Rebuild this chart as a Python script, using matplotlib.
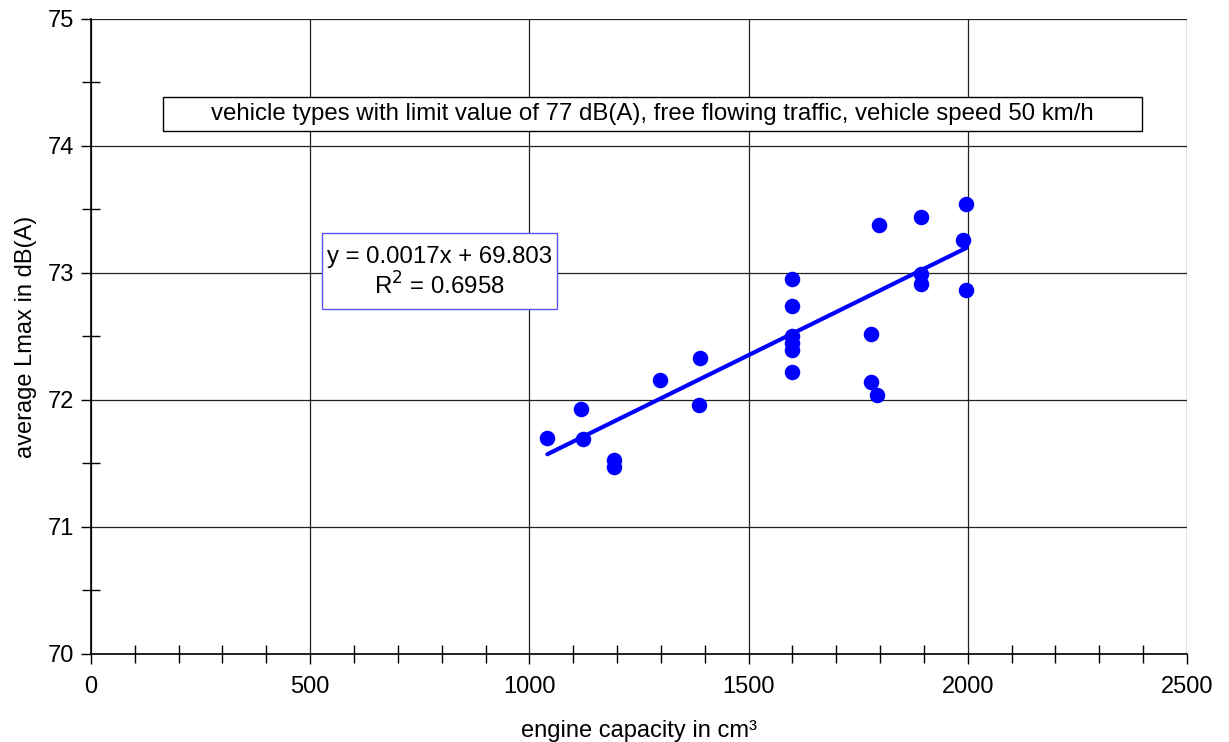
import matplotlib
matplotlib.use("Agg")
import matplotlib.pyplot as plt
from matplotlib.patches import Rectangle
from matplotlib.ticker import MultipleLocator
import numpy as np

plt.rcParams['font.family'] = ['Liberation Sans', 'DejaVu Sans']

# engine capacity (cm³) and average Lmax (dB(A)) per vehicle type
capacity = [1041, 1118, 1122, 1194, 1194, 1298, 1389, 1388,
            1598, 1598, 1598, 1598, 1598, 1598,
            1797, 1779, 1779, 1794,
            1894, 1894, 1894,
            1995, 1989, 1997]
lmax = [71.70, 71.93, 71.69, 71.53, 71.47, 72.16, 72.33, 71.96,
        72.95, 72.74, 72.50, 72.45, 72.39, 72.22,
        73.38, 72.52, 72.14, 72.04,
        73.44, 72.99, 72.91,
        73.54, 73.26, 72.87]

# linear trend as stated in the equation label
slope = 0.0017
intercept = 69.803
r_squared = 0.6958

x_ticks = [0, 500, 1000, 1500, 2000, 2500]
y_ticks = [70, 71, 72, 73, 74, 75]

fig = plt.figure(figsize=(12.29, 7.42), dpi=100)
ax = fig.add_axes([0.0740, 0.1186, 0.8918, 0.8558])

ax.set_xlim(0, 2500)
ax.set_ylim(70, 75)
ax.set_xticks(x_ticks)
ax.set_yticks(y_ticks)
ax.xaxis.set_minor_locator(MultipleLocator(100))
ax.yaxis.set_minor_locator(MultipleLocator(0.5))

ax.grid(True, which='major', color='#222222', linewidth=0.9)
ax.set_axisbelow(True)

for side in ['top', 'right']:
    ax.spines[side].set_visible(False)
ax.spines['left'].set_linewidth(1.2)
ax.spines['bottom'].set_linewidth(1.2)

ax.tick_params(axis='both', which='major', direction='out', length=7,
               width=1.0, labelsize=17, pad=5)
ax.tick_params(axis='both', which='minor', direction='inout', length=13,
               width=1.0)
ax.tick_params(axis='x', which='major', pad=9)

ax.scatter(capacity, lmax, s=125, color='#0000ff', zorder=3, linewidths=0)

xfit = np.array([min(capacity), max(capacity)])
ax.plot(xfit, slope * xfit + intercept, color='#0000ff', linewidth=3.0,
        solid_capstyle='round', zorder=4)

ax.set_xlabel('engine capacity in cm³', fontsize=17, labelpad=16)
ax.set_ylabel('average Lmax in dB(A)', fontsize=17, labelpad=8)

# caption box
ax.add_patch(Rectangle((0.0657, 0.8236), 0.8933, 0.0534,
                       transform=ax.transAxes, facecolor='white',
                       edgecolor='black', linewidth=1.0, zorder=5))
ax.text(0.5124, 0.8504,
        'vehicle types with limit value of 77 dB(A), free flowing traffic, vehicle speed 50 km/h',
        transform=ax.transAxes, ha='center', va='center', fontsize=17.3,
        zorder=6)

# trend equation box
ax.add_patch(Rectangle((0.2108, 0.5433), 0.2144, 0.1197,
                       transform=ax.transAxes, facecolor='white',
                       edgecolor='#5555ff', linewidth=1.0, zorder=5))
ax.text(0.318, 0.600,
        f'y = {slope}x + {intercept}\nR$^2$ = {r_squared}',
        transform=ax.transAxes, ha='center', va='center', fontsize=17.3,
        linespacing=1.22, zorder=6)

fig.savefig('out.png', dpi=100)
